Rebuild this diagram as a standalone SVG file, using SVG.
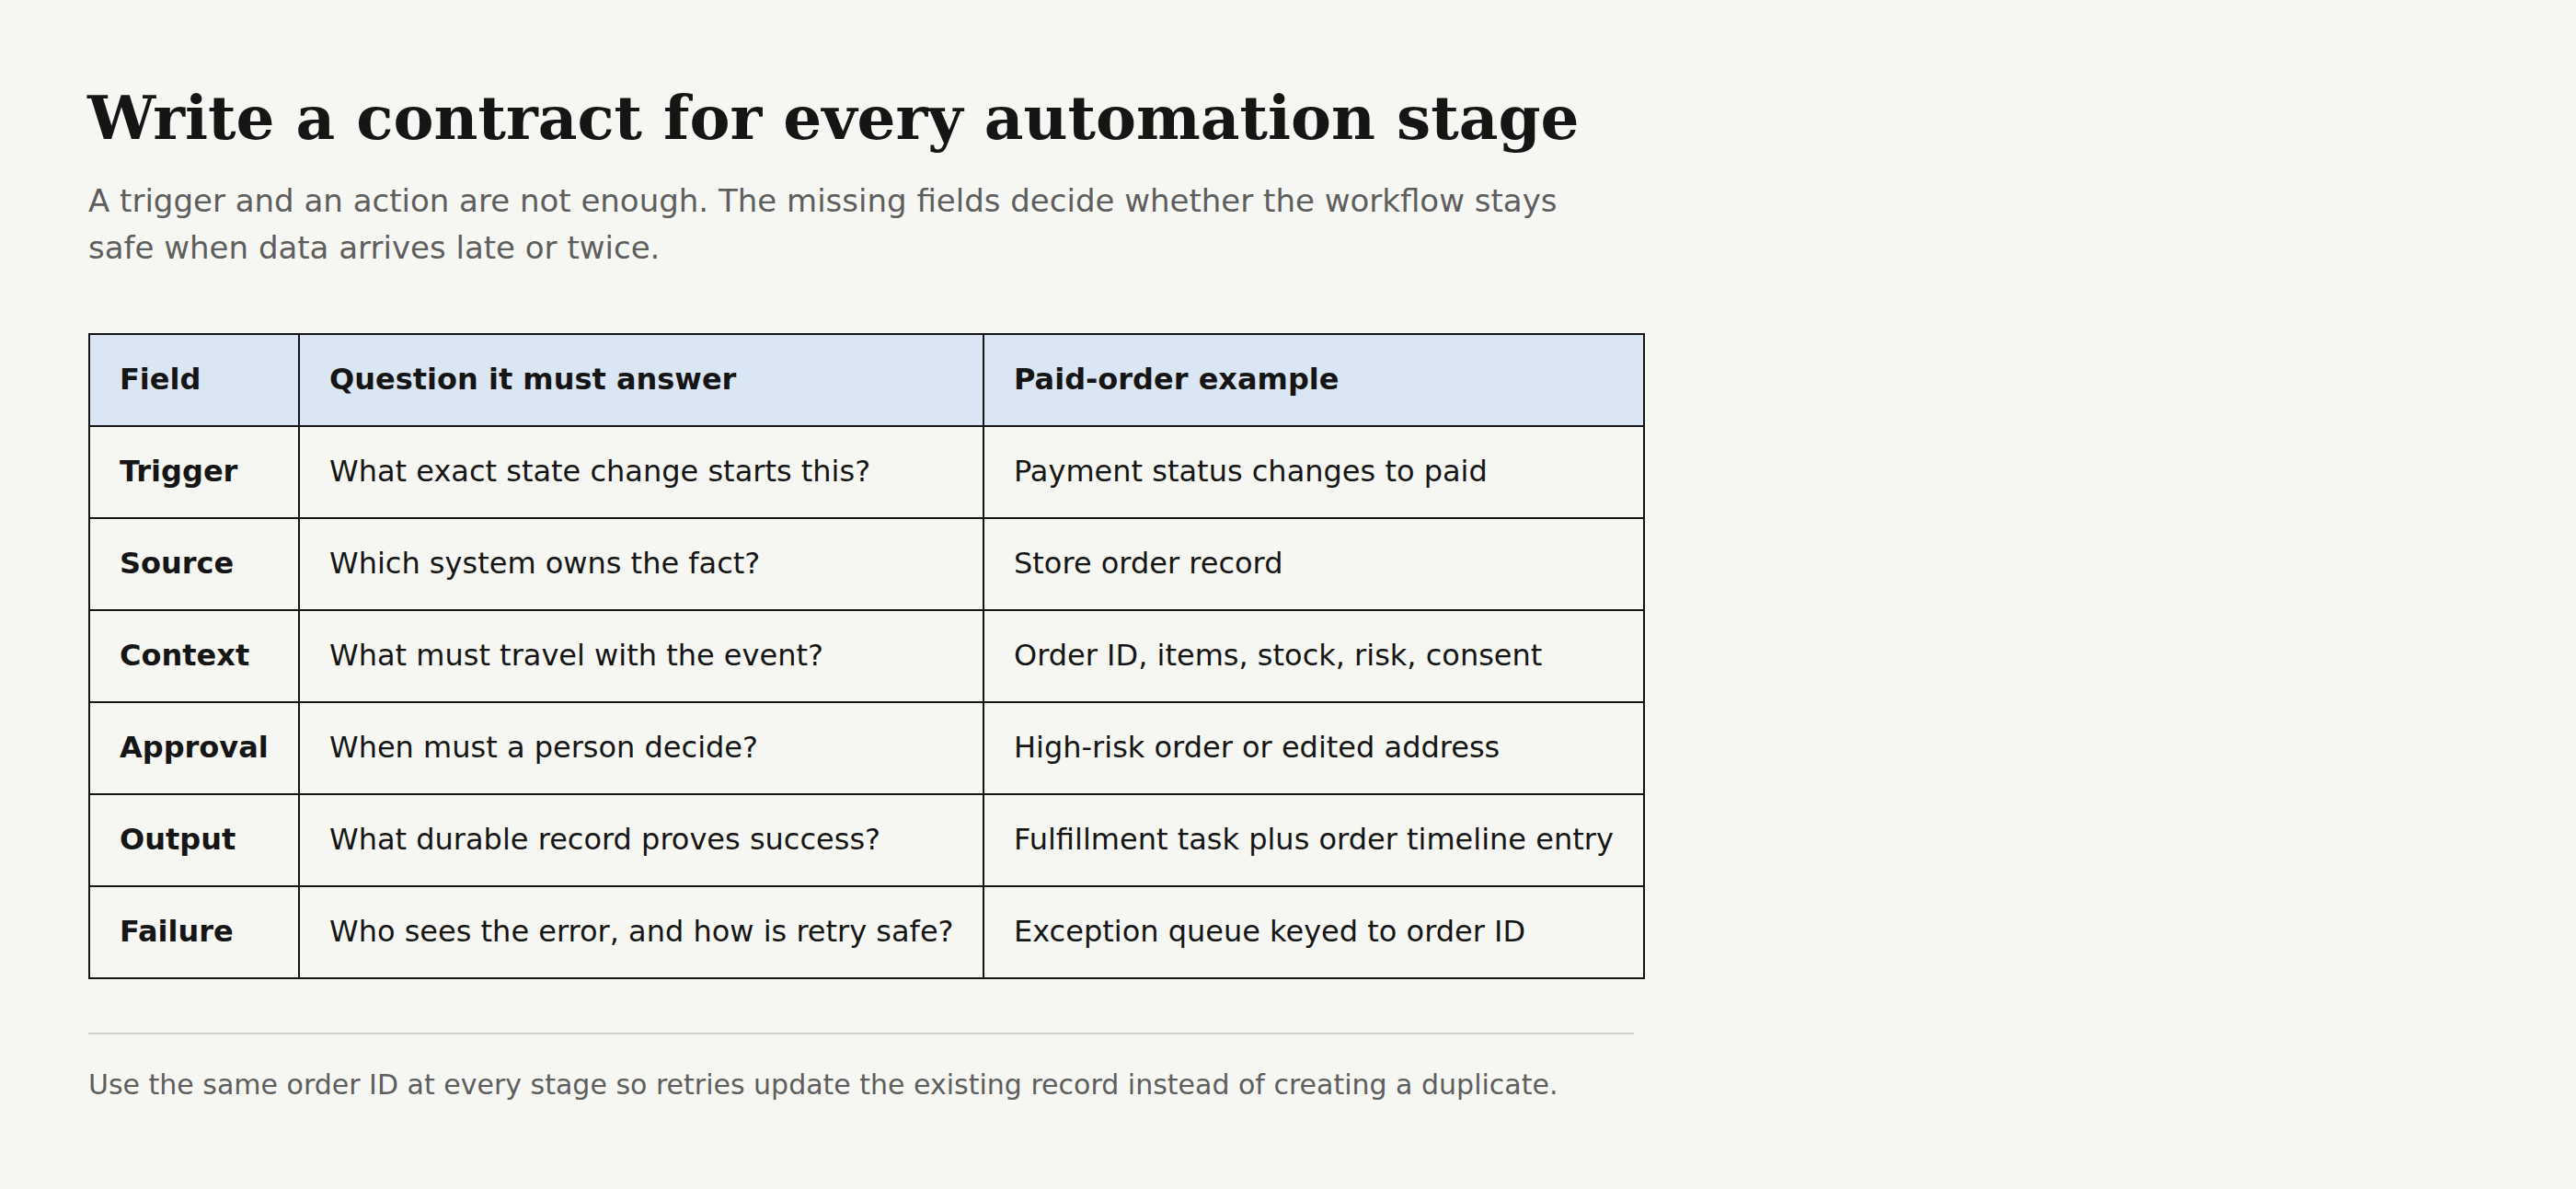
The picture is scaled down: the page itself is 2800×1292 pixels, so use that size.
<svg xmlns="http://www.w3.org/2000/svg" width="2800" height="1292" viewBox="0 0 2800 1292">
<style>
.t{font-family:"DejaVu Serif",serif;font-weight:bold;font-size:66px;fill:#151515}
.s{font-family:"DejaVu Sans",sans-serif;font-size:34px;fill:#5e5e5e}
.c{font-family:"DejaVu Sans",sans-serif;font-size:32px;fill:#151515}
.b{font-weight:bold}
.f{font-family:"DejaVu Sans",sans-serif;font-size:30px;fill:#5e5e5e}
.ln{stroke:#151515;stroke-width:2;fill:none}
</style>
<rect width="2800" height="1292" fill="#f6f7f2"/>
<text class="t" x="95" y="151">Write a contract for every automation stage</text>
<text class="s" x="96" y="230">A trigger and an action are not enough. The missing fields decide whether the workflow stays</text>
<text class="s" x="96" y="281">safe when data arrives late or twice.</text>
<g id="table">
<rect x="97" y="363" width="1690" height="100" fill="#dbe6f4"/>
<rect class="ln" x="97" y="363" width="1690" height="700"/>
<g class="ln">
<line x1="97" y1="463" x2="1787" y2="463"/><line x1="97" y1="563" x2="1787" y2="563"/>
<line x1="97" y1="663" x2="1787" y2="663"/><line x1="97" y1="763" x2="1787" y2="763"/>
<line x1="97" y1="863" x2="1787" y2="863"/><line x1="97" y1="963" x2="1787" y2="963"/>
<line x1="325" y1="363" x2="325" y2="1063"/><line x1="1069" y1="363" x2="1069" y2="1063"/>
</g>
<g class="c b"><text x="130" y="423">Field</text><text x="358" y="423">Question it must answer</text><text x="1102" y="423">Paid-order example</text></g>
<g id="r1"><text class="c b" x="130" y="523">Trigger</text><text class="c" x="358" y="523">What exact state change starts this?</text><text class="c" x="1102" y="523">Payment status changes to paid</text></g>
<g id="r2"><text class="c b" x="130" y="623">Source</text><text class="c" x="358" y="623">Which system owns the fact?</text><text class="c" x="1102" y="623">Store order record</text></g>
<g id="r3"><text class="c b" x="130" y="723">Context</text><text class="c" x="358" y="723">What must travel with the event?</text><text class="c" x="1102" y="723">Order ID, items, stock, risk, consent</text></g>
<g id="r4"><text class="c b" x="130" y="823">Approval</text><text class="c" x="358" y="823">When must a person decide?</text><text class="c" x="1102" y="823">High-risk order or edited address</text></g>
<g id="r5"><text class="c b" x="130" y="923">Output</text><text class="c" x="358" y="923">What durable record proves success?</text><text class="c" x="1102" y="923">Fulfillment task plus order timeline entry</text></g>
<g id="r6"><text class="c b" x="130" y="1023">Failure</text><text class="c" x="358" y="1023">Who sees the error, and how is retry safe?</text><text class="c" x="1102" y="1023">Exception queue keyed to order ID</text></g>
</g>
<line x1="96" y1="1123" x2="1776" y2="1123" stroke="#cfcfcf" stroke-width="2"/>
<text class="f" x="96" y="1189">Use the same order ID at every stage so retries update the existing record instead of creating a duplicate.</text>
</svg>
